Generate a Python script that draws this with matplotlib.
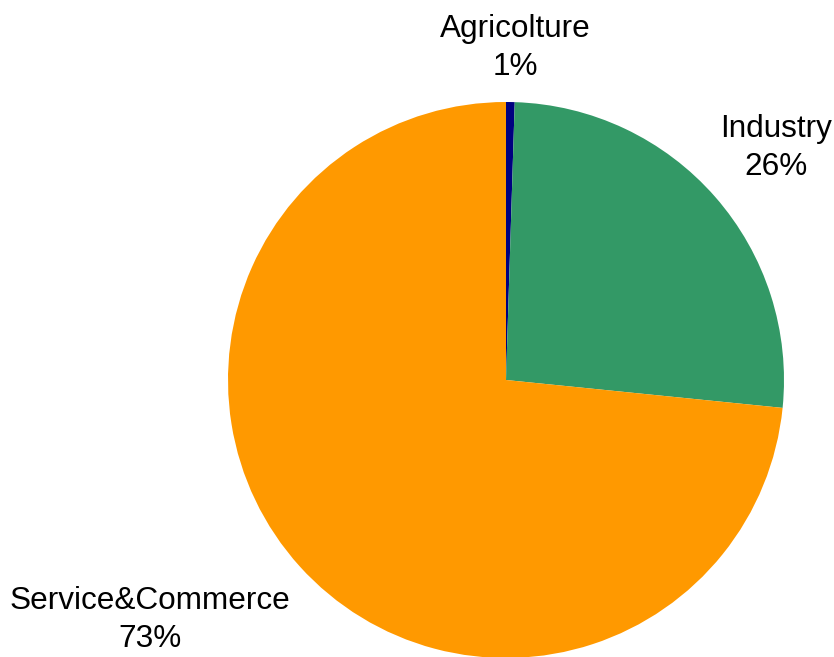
import matplotlib.pyplot as plt

# Employment share by sector
sectors = ['Agricolture', 'Industry', 'Service&Commerce']
shares = [0.5, 26.1, 73.4]
colors = ['#000080', '#339966', '#FF9900']

plt.rcParams['font.family'] = ['Liberation Sans', 'DejaVu Sans']

fig = plt.figure(figsize=(8.34, 6.57), dpi=100)
ax = fig.add_axes([0, 0, 1, 1])

# one data unit = pie radius (278 px), centre at (506, 380) px from top-left
R = 278.0

ax.pie(shares, colors=colors, startangle=90, counterclock=False,
       radius=1.0, center=(0, 0), frame=True,
       wedgeprops=dict(linewidth=0))
ax.set_xlim(-506 / R, (834 - 506) / R)
ax.set_ylim(-(657 - 380) / R, 380 / R)
ax.set_aspect('equal')
ax.axis('off')

# label positions (px offsets from the centre)
label_pos = [(9, 332), (270, 232), (-356, -240)]
for name, val, (dx, dy) in zip(sectors, shares, label_pos):
    pct = int(val + 0.5)
    ax.text(dx / R, dy / R, f'{name}\n{pct}%', ha='center', va='center',
            fontsize=22.7, linespacing=1.35, color='black')

plt.savefig('out.png', dpi=100)
